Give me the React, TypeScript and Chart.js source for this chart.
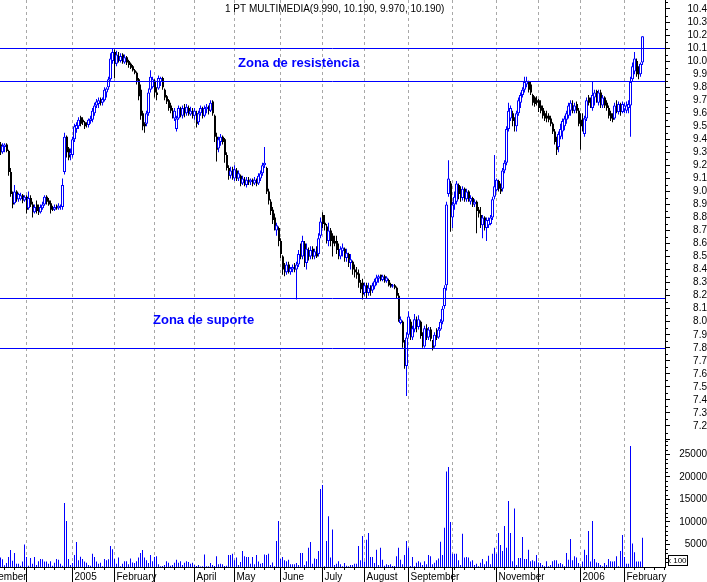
import React, { useEffect, useRef } from 'react';
import { Chart, registerables } from 'chart.js';

Chart.register(...registerables);

const TITLE = '1 PT MULTIMEDIA(9.990, 10.190, 9.970, 10.190)';
const FONT = '"Liberation Sans", Arial, Helvetica, sans-serif';
const BLUE = '#0000ff';

// month starts (trading-day index) and their labels
const monthStarts = [-11, 13, 36, 57, 77, 97, 117, 140, 161, 182, 204, 226, 248, 269, 290, 312];
const monthLabels = ['November', '', '2005', 'February', '', 'April', 'May', 'June', 'July', 'August', 'September', '', 'November', '', '2006', 'February'];
const volumeTicks = [5000, 10000, 15000, 20000, 25000];

const open = [
  9.36,9.30,9.34,9.36,9.31,9.15,8.98,8.91,9.00,8.94,8.94,8.97,8.93,
  8.96,8.87,8.95,8.90,8.84,8.90,8.86,8.84,8.87,8.90,8.96,8.93,8.91,8.88,8.86,8.89,8.87,8.88,8.88,9.15,9.42,9.33,9.28,
  9.28,9.40,9.48,9.50,9.57,9.55,9.53,9.52,9.51,9.54,9.55,9.60,9.66,9.67,9.71,9.68,9.70,9.76,9.80,9.86,10.00,
  10.07,9.98,10.04,10.00,10.05,9.99,10.03,10.00,9.98,9.96,9.93,9.91,9.86,9.78,9.60,9.52,9.52,9.60,9.78,9.80,
  9.85,9.76,9.79,9.84,9.87,9.78,9.73,9.70,9.66,9.62,9.56,9.48,9.56,9.63,9.58,9.64,9.60,9.64,9.59,9.62,
  9.58,9.60,9.53,9.60,9.63,9.58,9.63,9.64,9.62,9.69,9.58,9.42,9.33,9.38,9.42,9.40,9.28,9.18,9.12,9.17,
  9.10,9.16,9.10,9.12,9.06,9.09,9.05,9.09,9.07,9.09,9.06,9.08,9.06,9.10,9.14,9.20,9.18,9.00,8.92,8.86,8.80,8.70,8.72,
  8.62,8.50,8.40,8.38,8.44,8.38,8.40,8.42,8.40,8.44,8.52,8.50,8.60,8.45,8.55,8.50,8.56,8.50,8.54,8.52,8.66,
  8.82,8.76,8.73,8.62,8.70,8.66,8.62,8.62,8.55,8.50,8.54,8.56,8.49,8.52,8.45,8.46,8.40,8.38,8.37,8.30,8.30,
  8.22,8.28,8.22,8.26,8.24,8.27,8.30,8.33,8.36,8.32,8.35,8.31,8.32,8.29,8.27,8.28,8.26,8.20,7.99,8.00,7.84,7.66,
  7.90,8.00,7.88,7.94,8.00,7.96,8.00,7.88,7.81,7.95,7.88,7.94,7.85,7.81,7.90,7.88,7.94,8.00,8.12,8.28,8.98,9.06,
  8.80,8.90,8.92,9.05,9.00,8.95,9.02,8.94,9.00,8.92,8.95,8.90,8.92,8.86,8.82,8.74,8.80,8.72,8.74,8.75,8.80,8.96,
  9.01,9.08,9.02,9.02,9.16,9.22,9.48,9.56,9.60,9.55,9.50,9.60,9.68,9.74,9.78,9.82,9.84,9.82,9.74,9.72,9.70,
  9.70,9.66,9.64,9.60,9.58,9.58,9.56,9.52,9.46,9.40,9.34,9.42,9.46,9.50,9.55,9.58,9.62,9.66,9.62,9.67,9.62,
  9.55,9.56,9.44,9.56,9.72,9.70,9.64,9.72,9.77,9.68,9.76,9.66,9.72,9.68,9.64,9.60,9.58,9.56,9.66,9.61,9.66,9.61,
  9.63,9.62,9.64,9.66,9.86,9.92,10.00,9.92,9.90,9.99,
];

const high = [
  9.38,9.37,9.37,9.37,9.32,9.18,9.00,9.05,9.01,8.99,8.99,8.98,8.97,
  8.97,9.00,8.97,8.92,8.90,8.93,8.90,8.90,8.92,8.97,8.97,8.95,8.93,8.89,8.90,8.90,8.91,8.90,9.10,9.45,9.43,9.34,9.33,
  9.42,9.52,9.53,9.57,9.58,9.57,9.54,9.53,9.56,9.58,9.64,9.68,9.71,9.72,9.72,9.72,9.80,9.80,9.88,10.06,10.10,
  10.09,10.08,10.07,10.06,10.06,10.05,10.04,10.01,9.99,9.97,9.94,9.92,9.87,9.82,9.62,9.53,9.62,9.79,9.93,9.88,
  9.86,9.80,9.89,9.88,9.88,9.79,9.74,9.71,9.68,9.64,9.64,9.58,9.66,9.65,9.66,9.67,9.67,9.66,9.65,9.64,
  9.64,9.62,9.62,9.66,9.65,9.66,9.67,9.66,9.70,9.70,9.59,9.45,9.42,9.44,9.43,9.41,9.30,9.20,9.19,9.19,
  9.20,9.18,9.16,9.13,9.12,9.11,9.11,9.11,9.10,9.10,9.11,9.10,9.14,9.16,9.22,9.34,9.19,9.02,8.94,8.88,8.83,8.76,8.73,
  8.64,8.51,8.45,8.46,8.46,8.42,8.44,8.45,8.46,8.55,8.60,8.66,8.62,8.60,8.57,8.58,8.58,8.56,8.58,8.68,8.80,
  8.84,8.82,8.75,8.76,8.72,8.68,8.66,8.66,8.60,8.58,8.60,8.57,8.56,8.53,8.52,8.47,8.44,8.42,8.40,8.32,8.33,
  8.30,8.30,8.30,8.28,8.30,8.33,8.36,8.36,8.36,8.36,8.36,8.35,8.33,8.30,8.29,8.29,8.27,8.22,8.04,8.01,7.86,7.92,
  8.08,8.02,7.97,8.06,8.04,8.05,8.01,7.92,7.97,7.98,7.96,7.96,7.86,7.92,7.95,7.96,8.02,8.12,8.28,8.92,9.24,9.08,
  8.92,9.00,9.08,9.06,9.04,9.04,9.03,9.02,9.01,8.97,8.96,8.94,8.93,8.88,8.88,8.82,8.81,8.80,8.80,8.82,8.96,9.28,
  9.10,9.09,9.06,9.18,9.24,9.50,9.68,9.66,9.62,9.57,9.62,9.72,9.76,9.80,9.88,9.88,9.85,9.84,9.75,9.73,9.73,
  9.71,9.70,9.66,9.62,9.62,9.60,9.58,9.53,9.48,9.42,9.46,9.52,9.56,9.58,9.62,9.68,9.70,9.70,9.68,9.69,9.64,
  9.60,9.60,9.58,9.72,9.74,9.72,9.84,9.78,9.78,9.78,9.78,9.74,9.73,9.70,9.66,9.62,9.60,9.68,9.70,9.69,9.68,9.69,
  9.68,9.69,9.70,9.88,9.99,10.07,10.02,9.96,9.99,10.19,
];

const low = [
  9.28,9.29,9.30,9.30,9.12,8.96,8.87,8.90,8.92,8.92,8.93,8.91,8.92,
  8.83,8.86,8.88,8.80,8.83,8.83,8.82,8.83,8.86,8.89,8.90,8.89,8.83,8.85,8.85,8.86,8.86,8.86,8.86,9.13,9.26,9.24,9.24,
  9.26,9.38,9.45,9.48,9.50,9.51,9.48,9.49,9.49,9.52,9.53,9.58,9.64,9.64,9.66,9.66,9.69,9.72,9.78,9.85,9.98,
  9.87,9.96,9.99,9.99,9.98,9.98,9.97,9.95,9.94,9.92,9.90,9.82,9.70,9.55,9.47,9.45,9.50,9.58,9.76,9.79,
  9.72,9.70,9.78,9.81,9.78,9.70,9.67,9.62,9.60,9.56,9.54,9.46,9.55,9.57,9.56,9.57,9.58,9.58,9.58,9.56,
  9.55,9.49,9.51,9.58,9.56,9.57,9.60,9.59,9.61,9.58,9.38,9.23,9.30,9.35,9.36,9.22,9.16,9.09,9.10,9.09,
  9.08,9.08,9.08,9.04,9.05,9.04,9.03,9.05,9.05,9.04,9.05,9.04,9.05,9.08,9.12,9.18,8.98,8.90,8.82,8.75,8.70,8.66,8.58,
  8.49,8.36,8.35,8.36,8.37,8.36,8.38,8.38,8.17,8.42,8.48,8.48,8.42,8.40,8.47,8.48,8.48,8.48,8.49,8.50,8.64,
  8.72,8.70,8.60,8.58,8.58,8.50,8.58,8.52,8.48,8.48,8.50,8.46,8.46,8.42,8.40,8.36,8.34,8.33,8.26,8.22,8.17,
  8.20,8.18,8.20,8.20,8.22,8.25,8.28,8.30,8.31,8.31,8.30,8.30,8.27,8.26,8.26,8.25,8.18,8.00,7.98,7.80,7.64,7.43,
  7.88,7.86,7.86,7.92,7.92,7.94,7.87,7.80,7.80,7.86,7.86,7.85,7.78,7.80,7.86,7.87,7.93,7.98,8.10,8.24,8.96,8.69,
  8.72,8.86,8.90,8.94,8.92,8.93,8.92,8.92,8.92,8.90,8.88,8.88,8.68,8.80,8.72,8.64,8.70,8.62,8.72,8.74,8.78,8.94,
  9.00,9.00,8.98,9.00,9.14,9.20,9.46,9.54,9.50,9.46,9.46,9.58,9.64,9.72,9.76,9.80,9.76,9.74,9.66,9.65,9.66,
  9.61,9.60,9.56,9.54,9.53,9.53,9.50,9.44,9.36,9.28,9.30,9.40,9.40,9.47,9.52,9.56,9.58,9.60,9.60,9.60,9.50,
  9.32,9.46,9.42,9.54,9.66,9.64,9.62,9.66,9.68,9.66,9.64,9.64,9.64,9.62,9.56,9.54,9.53,9.55,9.60,9.59,9.58,9.60,
  9.60,9.60,9.60,9.42,9.84,9.90,9.88,9.86,9.88,9.97,
];

const close = [
  9.30,9.35,9.36,9.31,9.15,8.98,8.90,9.00,8.94,8.98,8.97,8.93,8.96,
  8.86,8.95,8.90,8.84,8.88,8.85,8.84,8.88,8.90,8.96,8.92,8.90,8.86,8.86,8.88,8.87,8.89,8.89,9.05,9.42,9.30,9.26,9.30,
  9.40,9.50,9.51,9.55,9.52,9.53,9.50,9.51,9.55,9.56,9.62,9.66,9.69,9.70,9.68,9.71,9.78,9.79,9.86,10.02,10.07,
  9.98,10.05,10.01,10.04,10.00,10.03,9.99,9.97,9.95,9.93,9.91,9.85,9.73,9.58,9.50,9.50,9.60,9.76,9.88,9.86,
  9.76,9.74,9.87,9.87,9.80,9.72,9.69,9.64,9.62,9.58,9.62,9.56,9.64,9.59,9.64,9.60,9.65,9.60,9.62,9.58,
  9.62,9.52,9.60,9.64,9.58,9.64,9.65,9.62,9.68,9.60,9.42,9.32,9.40,9.42,9.38,9.28,9.18,9.12,9.16,9.11,
  9.17,9.10,9.14,9.06,9.10,9.05,9.09,9.07,9.09,9.06,9.09,9.06,9.12,9.14,9.20,9.22,9.00,8.93,8.85,8.78,8.72,8.74,8.62,
  8.52,8.40,8.38,8.44,8.39,8.41,8.42,8.40,8.44,8.52,8.50,8.62,8.45,8.56,8.50,8.55,8.50,8.54,8.50,8.64,8.77,
  8.75,8.74,8.64,8.70,8.62,8.60,8.60,8.55,8.52,8.56,8.57,8.49,8.53,8.45,8.48,8.40,8.38,8.36,8.30,8.25,8.21,
  8.28,8.22,8.26,8.24,8.28,8.31,8.34,8.35,8.32,8.35,8.31,8.34,8.28,8.27,8.28,8.26,8.20,8.02,8.02,7.84,7.66,7.88,
  8.04,7.90,7.95,8.02,7.96,8.02,7.89,7.82,7.95,7.88,7.94,7.87,7.80,7.90,7.88,7.94,8.00,8.10,8.26,8.90,9.10,8.82,
  8.90,8.96,9.06,8.98,8.95,9.02,8.94,9.00,8.94,8.95,8.90,8.92,8.85,8.83,8.75,8.80,8.72,8.78,8.78,8.80,8.94,9.04,
  9.09,9.02,9.00,9.16,9.22,9.48,9.62,9.64,9.54,9.52,9.60,9.70,9.74,9.78,9.84,9.85,9.78,9.76,9.68,9.67,9.68,
  9.64,9.62,9.58,9.56,9.56,9.55,9.52,9.46,9.38,9.32,9.44,9.48,9.54,9.56,9.60,9.66,9.68,9.62,9.66,9.62,9.52,
  9.50,9.48,9.56,9.70,9.68,9.66,9.74,9.76,9.70,9.76,9.68,9.72,9.66,9.64,9.58,9.56,9.55,9.66,9.62,9.67,9.61,9.67,
  9.66,9.66,9.67,9.84,9.96,10.02,9.90,9.90,9.98,10.19,
];

// volume, in units of 100 shares (axis shows "x 100")
const volume = [
  2100,1700,400,900,2200,3800,1400,3100,700,700,250,1200,5000,
  2200,250,2000,700,2200,450,1300,1800,1700,1200,1200,700,1300,250,950,1800,1600,700,300,14200,10200,1800,450,
  900,2650,5550,1500,2300,1800,1200,950,450,300,2960,2200,1200,700,950,150,1800,1500,1700,4660,3920,
  1800,700,2100,150,700,1300,1300,600,1900,1000,900,1300,2100,3100,3770,2100,1500,900,2650,1300,
  2200,2400,600,150,200,450,1300,950,300,450,950,1600,950,1300,450,950,1300,1100,700,950,
  450,200,450,100,150,2800,150,150,900,450,200,2400,600,700,600,200,300,2650,2650,2960,
  1500,2100,450,1100,3550,2400,2200,2200,700,2200,600,2650,1200,700,900,2800,2650,2960,450,1000,150,5770,10200,
  1800,2200,1500,1300,1600,600,600,600,900,450,3100,3100,450,1300,4300,5550,700,1900,1800,3550,17300,
  18200,150,5770,11250,2100,8300,450,700,1300,600,150,900,300,150,450,450,700,700,4660,1500,6900,
  1200,6070,7550,2200,2200,900,3850,450,4300,1600,300,600,450,600,200,200,2400,4300,1600,600,2650,5770,
  4300,200,2200,150,950,1300,1000,450,1300,600,2650,2400,600,950,1500,1900,5620,2650,8700,21200,22200,10000,
  2960,2960,2960,1500,450,7400,2100,2200,2100,1200,1500,450,700,150,950,1800,600,1300,2500,600,2960,4300,
  2960,7550,4900,3550,9100,4300,14650,7550,1300,13000,450,2000,2000,6660,1800,1800,3850,1300,1500,1300,2650,
  1000,900,450,150,1300,150,450,1300,1500,1500,700,900,600,150,3100,1600,6200,1500,2400,2100,900,
  150,1200,3850,2650,8000,1200,10200,1800,1000,900,450,150,900,450,1800,1300,1200,1300,2400,150,3550,7100,
  2200,700,700,26860,5200,3250,1200,1200,1200,6500,
];

const resistanceLevels = [10.1, 9.85];
const supportLevels = [8.18, 7.8];
const zoneTexts = ['Zona de resistència', 'Zona de suporte'];

const PRICE_MIN = 7.0925;
const PRICE_MAX = 10.469;
const VOL_MAX = 28200;
const X_MIN = -0.25;
const X_MAX = 332.25;

const overlay = {
  id: 'overlay',
  afterDatasetsDraw(chart: any) {
    const { ctx, chartArea, scales } = chart;
    const xs = scales.x;
    const ys = scales.y;
    ctx.save();
    ctx.strokeStyle = BLUE;
    ctx.lineWidth = 1;
    [...resistanceLevels, ...supportLevels].forEach((v) => {
      const py = Math.round(ys.getPixelForValue(v)) + 0.5;
      ctx.beginPath();
      ctx.moveTo(chartArea.left, py);
      ctx.lineTo(chartArea.right, py);
      ctx.stroke();
    });
    ctx.fillStyle = BLUE;
    ctx.font = 'bold 13px ' + FONT;
    ctx.textAlign = 'left';
    ctx.textBaseline = 'alphabetic';
    ctx.fillText(zoneTexts[0], xs.getPixelForValue(118.75), ys.getPixelForValue(9.955));
    ctx.fillText(zoneTexts[1], xs.getPixelForValue(76.25), ys.getPixelForValue(7.982));
    ctx.restore();
  },
  afterDraw(chart: any) {
    const { ctx, chartArea, scales } = chart;
    const xs = scales.x;
    const ys = scales.y;
    const yv = scales.yv;
    ctx.save();
    // title
    ctx.fillStyle = '#000';
    ctx.font = '10px ' + FONT;
    ctx.textAlign = 'left';
    ctx.textBaseline = 'middle';
    ctx.fillText(TITLE, 225, 9);
    ctx.strokeStyle = '#000';
    ctx.lineWidth = 1;
    // weekly small ticks under the time axis
    for (let i = 2; i < X_MAX; i += 5) {
      const px = Math.round(xs.getPixelForValue(i) - 0.5) + 0.5;
      if (px < chartArea.left || px > chartArea.right) continue;
      ctx.beginPath();
      ctx.moveTo(px, chartArea.bottom);
      ctx.lineTo(px, chartArea.bottom + 3);
      ctx.stroke();
    }
    // minor ticks on the price axis (between the labelled 0.1 ticks)
    for (let k = 715; k <= 1045; k += 10) {
      const py = Math.round(ys.getPixelForValue(k / 100)) + 0.5;
      ctx.beginPath();
      ctx.moveTo(chartArea.right, py);
      ctx.lineTo(chartArea.right + 3, py);
      ctx.stroke();
    }
    // minor ticks on the volume axis
    for (let v = 1000; v < VOL_MAX; v += 1000) {
      if (v % 5000 === 0) continue;
      const py = Math.round(yv.getPixelForValue(v)) + 0.5;
      ctx.beginPath();
      ctx.moveTo(chartArea.right, py);
      ctx.lineTo(chartArea.right + 3, py);
      ctx.stroke();
    }
    // "x 100" box
    ctx.fillStyle = '#fff';
    ctx.fillRect(668, 555, 19, 11);
    ctx.strokeStyle = '#000';
    ctx.strokeRect(668.5, 555.5, 19, 10);
    ctx.beginPath();
    ctx.rect(669, 556, 18, 9);
    ctx.clip();
    ctx.fillStyle = '#000';
    ctx.font = '8px ' + FONT;
    ctx.textBaseline = 'middle';
    ctx.fillText('x 100', 667, 561);
    ctx.restore();
  },
};

export default function App() {
  const ref = useRef<HTMLCanvasElement | null>(null);

  useEffect(() => {
    document.body.style.margin = '0';
    const canvas = ref.current;
    if (!canvas) return;
    Chart.defaults.font.family = FONT;
    Chart.defaults.font.size = 10;
    Chart.defaults.color = '#000';

    const idx = close.map((_, i) => i);
    const up = idx.map((i) => close[i] >= open[i]);

    // all bar datasets share one x ruler; the smallest x gap is 0.25 (= 0.5 px),
    // so bar widths below are multiples of 0.5 px
    const chart = new Chart(canvas, {
      type: 'bar',
      data: {
        datasets: [
          {
            label: 'range',
            data: idx.map((i) => ({ x: i, y: [low[i], high[i]] })) as any,
            yAxisID: 'y',
            backgroundColor: up.map((u) => (u ? BLUE : '#000')),
            borderWidth: 0,
            grouped: false,
            categoryPercentage: 1,
            barPercentage: 2,
            order: 4,
          },
          {
            label: 'down body',
            data: idx.map((i) => ({ x: i + 0.25, y: up[i] ? null : [open[i], close[i]] })) as any,
            yAxisID: 'y',
            backgroundColor: '#000',
            borderWidth: 0,
            minBarLength: 1,
            grouped: false,
            categoryPercentage: 1,
            barPercentage: 4,
            order: 3,
          },
          {
            label: 'up body',
            data: idx.map((i) => ({ x: i, y: up[i] ? [open[i], close[i]] : null })) as any,
            yAxisID: 'y',
            backgroundColor: '#ffffff',
            borderColor: BLUE,
            borderWidth: 1,
            borderSkipped: false,
            minBarLength: 1,
            grouped: false,
            categoryPercentage: 1,
            barPercentage: 6,
            order: 2,
          },
          {
            label: 'volume',
            data: idx.map((i) => ({ x: i, y: volume[i] })) as any,
            yAxisID: 'yv',
            backgroundColor: BLUE,
            borderWidth: 0,
            grouped: false,
            categoryPercentage: 1,
            barPercentage: 2,
            order: 1,
          },
        ],
      },
      options: {
        responsive: false,
        animation: false,
        events: [],
        layout: { padding: 0 },
        plugins: {
          legend: { display: false },
          tooltip: { enabled: false },
          title: { display: false },
        },
        scales: {
          x: {
            type: 'linear',
            position: 'bottom',
            min: X_MIN,
            max: X_MAX,
            offset: false,
            grid: {
              offset: false,
              color: '#a8a8a8',
              lineWidth: 1,
              drawOnChartArea: true,
              drawTicks: true,
              tickLength: 15,
              tickColor: '#000',
              tickWidth: 1,
              tickBorderDash: [],
            },
            border: { display: true, color: '#000', width: 1, dash: [3, 3] },
            ticks: {
              autoSkip: false,
              maxRotation: 0,
              minRotation: 0,
              align: 'start',
              labelOffset: 2,
              padding: -11,
              color: '#000',
              font: { family: FONT, size: 10 },
              callback: (_v: any, i: number) => monthLabels[i] ?? '',
            },
            afterBuildTicks: (s: any) => {
              s.ticks = monthStarts.map((v) => ({ value: v }));
            },
            afterFit: (s: any) => {
              s.height = 15;
              s.paddingLeft = 0;
              s.paddingRight = 0;
            },
          } as any,
          y: {
            type: 'linear',
            position: 'right',
            stack: 'panes',
            stackWeight: 440,
            min: PRICE_MIN,
            max: PRICE_MAX,
            grid: { drawOnChartArea: false, drawTicks: true, tickLength: 5, tickColor: '#000' },
            border: { display: true, color: '#000', width: 1 },
            ticks: {
              stepSize: 0.1,
              includeBounds: false,
              autoSkip: false,
              crossAlign: 'far',
              padding: 5.5,
              color: '#000',
              font: { family: FONT, size: 10 },
              callback: (v: any) => {
                const c = Math.round(Number(v) * 100);
                return c >= 720 && c <= 1040 ? (c / 100).toFixed(1) : '';
              },
            },
            afterFit: (s: any) => {
              s.width = 42;
              s.paddingTop = 0;
              s.paddingBottom = 0;
            },
          } as any,
          yv: {
            type: 'linear',
            position: 'right',
            stack: 'panes',
            stackWeight: 127,
            min: 0,
            max: VOL_MAX,
            grid: { drawOnChartArea: false, drawTicks: true, tickLength: 5, tickColor: '#000' },
            border: { display: true, color: '#000', width: 1 },
            ticks: {
              autoSkip: false,
              crossAlign: 'far',
              padding: 0,
              color: '#000',
              font: { family: FONT, size: 10 },
              callback: (v: any) => String(Math.round(Number(v))),
            },
            afterBuildTicks: (s: any) => {
              s.ticks = volumeTicks.map((v) => ({ value: v }));
            },
            afterFit: (s: any) => {
              s.width = 42;
              s.paddingTop = 0;
              s.paddingBottom = 0;
            },
          } as any,
        },
      },
      plugins: [overlay],
    } as any);

    return () => {
      chart.destroy();
    };
  }, []);

  return (
    <div style={{ width: 707, height: 582, background: '#fff' }}>
      <canvas ref={ref} width={707} height={582} style={{ display: 'block' }} />
    </div>
  );
}
